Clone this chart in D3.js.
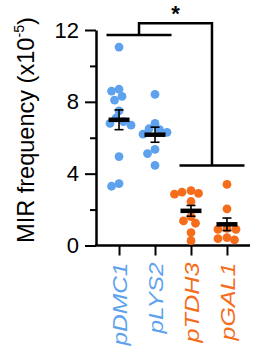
<!DOCTYPE html>
<html>
<head>
<meta charset="utf-8">
<script src="https://cdn.jsdelivr.net/npm/d3@7"></script>
<style>
  html, body { margin: 0; padding: 0; background: #fff; }
  svg { display: block; }
  text { font-family: "Liberation Sans", Arial, sans-serif; }
</style>
</head>
<body>
<div id="chart"></div>
<script>
// ---- data ----
const categories = ["pDMC1", "pLYS2", "pTDH3", "pGAL1"];
const valuesDMC1 = [11.05, 8.7, 8.6, 8.3, 8.1, 7.5, 7.1, 6.9, 6.8, 6.7, 4.95, 3.45, 3.3];
const valuesLYS2 = [8.42, 6.8, 6.5, 6.45, 6.3, 6.2, 5.35, 5.12, 4.46];
const valuesTDH3 = [3.06, 2.97, 2.9, 2.86, 2.45, 1.61, 1.37, 1.24, 0.72, 0.27];
const valuesGAL1 = [3.4, 2.04, 0.95, 0.9, 0.9, 0.44, 0.38, 0.31];
const groupMeans = [7.0, 6.17, 1.93, 1.18];
const groupSEM = [0.55, 0.42, 0.3, 0.35];
const groupColors = ["#5ea2ee", "#5ea2ee", "#f56c1b", "#f56c1b"];
const yMajorTicks = [0, 4, 8, 12];
const yMinorTicks = [2, 6, 10];
const sigLabel = "*";

const series = [valuesDMC1, valuesLYS2, valuesTDH3, valuesGAL1];

// ---- layout ----
const W = 260, H = 360;
const svg = d3.select("#chart").append("svg").attr("width", W).attr("height", H);

const y = d3.scaleLinear().domain([0, 12]).range([245.5, 30]);
const x = d3.scalePoint().domain(categories).range([96, 250]).padding(0.64);

const font = '"Liberation Sans", Arial, sans-serif';

// ---- y axis ----
const yAxis = svg.append("g").attr("transform", "translate(96,0)")
  .call(d3.axisLeft(y).tickValues(yMajorTicks).tickSize(11).tickSizeOuter(0).tickPadding(6).tickFormat(d3.format("d")));
yAxis.select(".domain").attr("stroke", "#000").attr("stroke-width", 2.5);
yAxis.selectAll(".tick line").attr("stroke", "#000").attr("stroke-width", 2);
yAxis.selectAll(".tick text").attr("font-size", 22).attr("font-family", font).attr("fill", "#000");
const yMinor = svg.append("g").attr("transform", "translate(96,0)")
  .call(d3.axisLeft(y).tickValues(yMinorTicks).tickSize(6).tickSizeOuter(0).tickFormat(""));
yMinor.select(".domain").remove();
yMinor.selectAll(".tick line").attr("stroke", "#000").attr("stroke-width", 2);

// ---- x axis ----
const xAxis = svg.append("g").attr("transform", `translate(0,${y(0)})`)
  .call(d3.axisBottom(x).tickSize(10).tickSizeOuter(0));
xAxis.select(".domain").attr("stroke", "#000").attr("stroke-width", 2.5)
  .attr("d", `M95,0H250`);
xAxis.selectAll(".tick line").attr("stroke", "#000").attr("stroke-width", 2);
const labelLen = { pDMC1: 83, pLYS2: 71, pTDH3: 80, pGAL1: 78 };
xAxis.selectAll(".tick text")
  .attr("font-size", 19.5).attr("font-style", "italic").attr("font-family", font)
  .attr("fill", (d, i) => groupColors[i])
  .attr("text-anchor", "end")
  .attr("transform", "rotate(-90)")
  .attr("x", -17).attr("y", 0).attr("dy", "0.36em")
  .attr("textLength", d => labelLen[d]).attr("lengthAdjust", "spacingAndGlyphs");

// ---- y title ----
const title = svg.append("text")
  .attr("transform", "translate(34,130) rotate(-90)")
  .attr("text-anchor", "middle")
  .attr("font-size", 23).attr("font-family", font).attr("fill", "#000");
title.append("tspan").text("MIR frequency (x10");
title.append("tspan").attr("font-size", 14).attr("dy", -10).text("-5");
title.append("tspan").attr("dy", 10).text(")");
// stretch along reading direction to match reference
const tl = title.node().getComputedTextLength();
title.attr("transform", `translate(34,130) rotate(-90) scale(${226 / tl},1)`);

// ---- swarm placement ----
const r = 4.4;
function swarm(vals, cx) {
  const placed = [];
  const sorted = vals.map((v, i) => ({ v, i })).sort((a, b) => b.v - a.v);
  sorted.forEach(p => {
    const py = y(p.v);
    let best = null;
    for (let k = 0; k < 40 && best === null; k++) {
      const cands = k === 0 ? [0] : [-k * 1.5, k * 1.5];
      for (const off of cands) {
        const px = cx + off;
        const ok = placed.every(q => Math.hypot(q.x - px, q.y - py) >= r * 1.75);
        if (ok) { best = px; break; }
      }
    }
    placed.push({ x: best, y: py, v: p.v });
  });
  return placed;
}

categories.forEach((c, gi) => {
  const pts = swarm(series[gi], x(c));
  svg.append("g").selectAll("circle").data(pts).join("circle")
    .attr("cx", d => d.x).attr("cy", d => d.y).attr("r", r)
    .attr("fill", groupColors[gi]);
  const cx = x(c);
  const g = svg.append("g").attr("stroke", "#000");
  // error bar
  g.append("line").attr("x1", cx).attr("x2", cx)
    .attr("y1", y(groupMeans[gi] + groupSEM[gi])).attr("y2", y(groupMeans[gi] - groupSEM[gi]))
    .attr("stroke-width", 1.6);
  [groupMeans[gi] + groupSEM[gi], groupMeans[gi] - groupSEM[gi]].forEach(v => {
    g.append("line").attr("x1", cx - 4.5).attr("x2", cx + 4.5)
      .attr("y1", y(v)).attr("y2", y(v)).attr("stroke-width", 1.6);
  });
  // mean bar
  g.append("line").attr("x1", cx - 10.5).attr("x2", cx + 10.5)
    .attr("y1", y(groupMeans[gi])).attr("y2", y(groupMeans[gi])).attr("stroke-width", 4.5);
});

// ---- significance bracket ----
const leftMid = (x(categories[0]) + x(categories[1])) / 2 + 2;
const rightMid = (x(categories[2]) + x(categories[3])) / 2 + 3;
const half = 32.5;
const br = svg.append("g").attr("stroke", "#000").attr("stroke-width", 2.5).attr("fill", "none");
br.append("line").attr("x1", leftMid - half).attr("x2", leftMid + half).attr("y1", y(11.72)).attr("y2", y(11.72));
br.append("line").attr("x1", rightMid - half).attr("x2", rightMid + half).attr("y1", y(4.46)).attr("y2", y(4.46));
br.append("path").attr("d", `M${leftMid},${y(11.72)}V${y(12.37)}H${rightMid}V${y(4.46)}`);
svg.append("text").attr("x", (leftMid + rightMid) / 2).attr("y", y(12.37) - 2)
  .attr("text-anchor", "middle").attr("font-size", 22).attr("font-weight", "bold")
  .attr("font-family", font).text(sigLabel);
</script>
</body>
</html>
